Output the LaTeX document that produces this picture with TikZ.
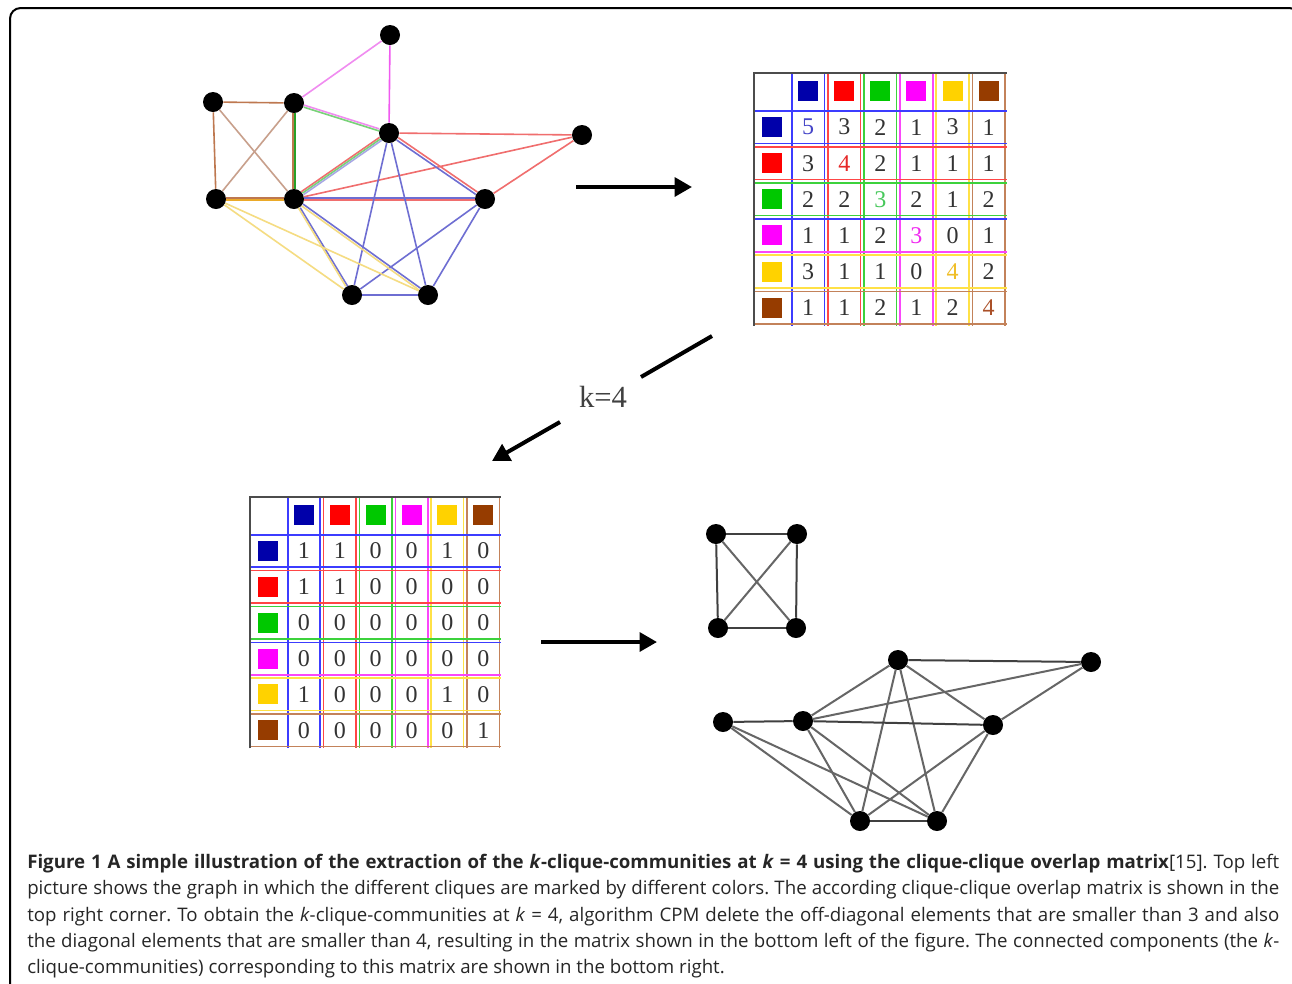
\documentclass[tikz,border=0pt]{standalone}
\usepackage{fontspec}
\setmainfont{Open Sans}
\newfontfamily\tnr{Liberation Serif}
\usetikzlibrary{arrows.meta}
\frenchspacing
\definecolor{cb}{RGB}{0,0,170}
\definecolor{cr}{RGB}{255,0,0}
\definecolor{cg}{RGB}{0,200,0}
\definecolor{cm}{RGB}{255,0,255}
\definecolor{cy}{RGB}{255,210,0}
\definecolor{cn}{RGB}{150,60,0}
\definecolor{lcb}{RGB}{60,60,255}
\definecolor{lcr}{RGB}{255,70,70}
\definecolor{lcg}{RGB}{60,210,60}
\definecolor{lcm}{RGB}{250,70,250}
\definecolor{lcy}{RGB}{255,225,70}
\definecolor{lcn}{RGB}{195,130,90}
\definecolor{dcb}{RGB}{70,70,200}
\definecolor{dcr}{RGB}{230,40,40}
\definecolor{dcg}{RGB}{70,200,90}
\definecolor{dcm}{RGB}{240,40,240}
\definecolor{dcy}{RGB}{240,190,40}
\definecolor{dcn}{RGB}{170,80,40}
\definecolor{gpink}{RGB}{240,140,240}
\definecolor{gmag}{RGB}{240,90,240}
\definecolor{gred}{RGB}{240,110,110}
\definecolor{gblue}{RGB}{110,110,210}
\definecolor{gyel}{RGB}{245,220,130}
\definecolor{gorg}{RGB}{235,170,40}
\definecolor{gtan}{RGB}{200,160,140}
\definecolor{gbrn}{RGB}{190,120,80}
\definecolor{ggrn}{RGB}{40,160,40}
\definecolor{ggrnl}{RGB}{120,210,120}
\def\ms{36}
\newcommand\mgrid[1]{%
  \fill[white] (0,0) rectangle ({7*\ms},{7*\ms});
  \foreach \c [count=\j] in {cb,cr,cg,cm,cy,cn} {
    \draw[mline,draw=l\c] ({\j*\ms+1.8},0) -- ({\j*\ms+1.8},{7*\ms});
    \draw[mline,draw=l\c] ({(\j+1)*\ms-1.8},0) -- ({(\j+1)*\ms-1.8},{7*\ms});
  }
  \foreach \c/\d [count=\i] in {cb/cb,cr/cr,cg/cg,cb/cm,cy/cy,cn/cn} {
    \draw[mline,draw=l\c] (0,{\i*\ms+1.8}) -- ({7*\ms},{\i*\ms+1.8});
    \draw[mline,draw=l\d] (0,{(\i+1)*\ms-1.8}) -- ({7*\ms},{(\i+1)*\ms-1.8});
  }
  \foreach \c [count=\j] in {cb,cr,cg,cm,cy,cn} {
    \node[sq,fill=\c] (#1h\j) at ({(\j+0.5)*\ms},{0.5*\ms}) {};
    \node[sq,fill=\c] (#1r\j) at ({0.5*\ms},{(\j+0.5)*\ms}) {};
  }
  \draw[line width=1.3pt,black!70] (0,{7*\ms}) -- (0,0) -- ({7*\ms},0);
}
\newcommand\mrow[8]{%
  \node[num] (#1n#2x1) at ({1.5*\ms},{(#2+0.5)*\ms}) {#3};
  \node[num] (#1n#2x2) at ({2.5*\ms},{(#2+0.5)*\ms}) {#4};
  \node[num] (#1n#2x3) at ({3.5*\ms},{(#2+0.5)*\ms}) {#5};
  \node[num] (#1n#2x4) at ({4.5*\ms},{(#2+0.5)*\ms}) {#6};
  \node[num] (#1n#2x5) at ({5.5*\ms},{(#2+0.5)*\ms}) {#7};
  \node[num] (#1n#2x6) at ({6.5*\ms},{(#2+0.5)*\ms}) {#8};
}
\begin{document}
\begin{tikzpicture}[x=0.75pt,y=-0.75pt,
  dot/.style={circle,fill=black,inner sep=0pt,minimum size=15pt},
  sq/.style={rectangle,inner sep=0pt,minimum size=15pt},
  num/.style={inner sep=0pt,font=\tnr\fontsize{18}{18}\selectfont,text=black!80},
  ge/.style={line width=1.2pt},
  be/.style={line width=1.5pt,black!60},
  bigarrow/.style={line width=3pt,-{Triangle[length=13pt,width=14pt]}},
  mline/.style={line width=1.3pt},
  capline/.style={anchor=base west,inner sep=0pt,font=\fontsize{14}{17}\selectfont,text=black!85}]
\useasboundingbox (0,0) rectangle (1292,983);
\fill[white] (0,0) rectangle (1292,983);
\begin{scope}
  \clip (0,0) rectangle (1292,983);
  \draw[line width=1.5pt,rounded corners=8pt] (10,1100) -- (10,8) -- (1300,8) -- (1300,1100);
\end{scope}

% ---- top-left graph
\node[dot] (tA) at (390,35) {};
\node[dot] (tB) at (213,102) {};
\node[dot] (tC) at (294,103) {};
\node[dot] (tD) at (389,133) {};
\node[dot] (tE) at (582,135) {};
\node[dot] (tF) at (216,199) {};
\node[dot] (tG) at (294,199) {};
\node[dot] (tH) at (485,199) {};
\node[dot] (tI) at (352,295) {};
\node[dot] (tJ) at (428,295) {};
\draw[ge,gpink] (tA) -- (tC);
\draw[ge,gmag] (tA) -- (tD);
\draw[ge,gbrn] (tB) -- (tC);
\draw[ge,gbrn] (tB) -- (tF);
\draw[ge,gtan] (tB) -- (tG);
\draw[ge,gtan] (tC) -- (tF);
\draw[ge,gbrn,transform canvas={xshift=-0.7pt}] (tC) -- (tG);
\draw[ge,ggrn,transform canvas={xshift=0.7pt}] (tC) -- (tG);
\draw[ge,gpink,transform canvas={yshift=0.8pt}] (tC) -- (tD);
\draw[ge,ggrnl,transform canvas={yshift=-0.8pt}] (tC) -- (tD);
\draw[ge,gbrn,transform canvas={yshift=0.7pt}] (tF) -- (tG);
\draw[ge,gorg,transform canvas={yshift=-0.7pt}] (tF) -- (tG);
\draw[ge,gred] (tD) -- (tE);
\draw[ge,gred] (tG) -- (tE);
\draw[ge,gred] (tH) -- (tE);
\draw[ge,gred,transform canvas={xshift=-0.8pt,yshift=1.1pt}] (tG) -- (tD);
\draw[ge,ggrnl] (tG) -- (tD);
\draw[ge,gblue!60,transform canvas={xshift=0.8pt,yshift=-1.1pt}] (tG) -- (tD);
\draw[ge,gred,transform canvas={xshift=0.6pt,yshift=0.9pt}] (tD) -- (tH);
\draw[ge,gblue,transform canvas={xshift=-0.6pt,yshift=-0.9pt}] (tD) -- (tH);
\draw[ge,gblue,transform canvas={yshift=0.9pt}] (tG) -- (tH);
\draw[ge,gred,transform canvas={yshift=-0.9pt}] (tG) -- (tH);
\draw[ge,gblue] (tD) -- (tI);
\draw[ge,gblue] (tD) -- (tJ);
\draw[ge,gblue] (tH) -- (tI);
\draw[ge,gblue] (tH) -- (tJ);
\draw[ge,gblue,transform canvas={xshift=0.7pt}] (tG) -- (tI);
\draw[ge,gyel,transform canvas={xshift=-0.7pt}] (tG) -- (tI);
\draw[ge,gblue,transform canvas={xshift=0.5pt,yshift=0.7pt}] (tG) -- (tJ);
\draw[ge,gyel,transform canvas={xshift=-0.5pt,yshift=-0.7pt}] (tG) -- (tJ);
\draw[ge,gblue] (tI) -- (tJ);
\draw[ge,gyel] (tF) -- (tI);
\draw[ge,gyel] (tF) -- (tJ);

% ---- arrows
\coordinate (a1s) at (576,187);
\coordinate (a1e) at (692,187);
\draw[bigarrow] (a1s) -- (a1e);
\node[font=\tnr\fontsize{23}{23}\selectfont,text=black!75,inner sep=1pt] (klab) at (603,397) {k=4};
\coordinate (k1s) at (712,336);
\coordinate (k1e) at (641,377);
\draw[line width=3pt] (k1s) -- (k1e);
\coordinate (k2s) at (560,422);
\coordinate (k2e) at (492,461);
\draw[bigarrow] (k2s) -- (k2e);
\coordinate (a3s) at (541,642);
\coordinate (a3e) at (657,642);
\draw[bigarrow] (a3s) -- (a3e);

% ---- top-right matrix
\begin{scope}[shift={(754,73)}]
\def\ms{36.1}
\mgrid{t}
\mrow{t}{1}{\textcolor{dcb}{5}}{3}{2}{1}{3}{1}
\mrow{t}{2}{3}{\textcolor{dcr}{4}}{2}{1}{1}{1}
\mrow{t}{3}{2}{2}{\textcolor{dcg}{3}}{2}{1}{2}
\mrow{t}{4}{1}{1}{2}{\textcolor{dcm}{3}}{0}{1}
\mrow{t}{5}{3}{1}{1}{0}{\textcolor{dcy}{4}}{2}
\mrow{t}{6}{1}{1}{2}{1}{2}{\textcolor{dcn}{4}}
\end{scope}

% ---- bottom-left matrix
\begin{scope}[shift={(250,497)}]
\def\ms{35.9}
\mgrid{b}
\mrow{b}{1}{1}{1}{0}{0}{1}{0}
\mrow{b}{2}{1}{1}{0}{0}{0}{0}
\mrow{b}{3}{0}{0}{0}{0}{0}{0}
\mrow{b}{4}{0}{0}{0}{0}{0}{0}
\mrow{b}{5}{1}{0}{0}{0}{1}{0}
\mrow{b}{6}{0}{0}{0}{0}{0}{1}
\end{scope}

% ---- bottom-right graphs
\node[dot] (bA) at (716,534) {};
\node[dot] (bB) at (797,534) {};
\node[dot] (bC) at (718,628) {};
\node[dot] (bD) at (796,628) {};
\draw[be,black!75] (bA) -- (bB);
\draw[be,black!75] (bA) -- (bC);
\draw[be,black!75] (bB) -- (bD);
\draw[be,black!75] (bC) -- (bD);
\draw[be] (bA) -- (bD);
\draw[be] (bB) -- (bC);

\node[dot] (bP) at (898,660) {};
\node[dot] (bQ) at (1091,662) {};
\node[dot] (bF) at (723,722) {};
\node[dot] (bG) at (803,721) {};
\node[dot] (bH) at (993,725) {};
\node[dot] (bI) at (860,821) {};
\node[dot] (bJ) at (937,821) {};
\draw[be,black!75] (bP) -- (bQ);
\draw[be] (bP) -- (bG);
\draw[be] (bP) -- (bH);
\draw[be] (bP) -- (bI);
\draw[be] (bP) -- (bJ);
\draw[be] (bG) -- (bQ);
\draw[be] (bH) -- (bQ);
\draw[be,black!75] (bF) -- (bG);
\draw[be,black!75] (bG) -- (bH);
\draw[be] (bF) -- (bI);
\draw[be] (bF) -- (bJ);
\draw[be] (bG) -- (bI);
\draw[be] (bG) -- (bJ);
\draw[be] (bH) -- (bI);
\draw[be] (bH) -- (bJ);
\draw[be,black!75] (bI) -- (bJ);

% ---- caption
\node[capline] (cap1) at (27,868) {\makebox[939pt][s]{\textbf{Figure 1 A simple illustration of the extraction of the \textit{k}-clique-communities at \textit{k} = 4 using the clique-clique overlap matrix}[15]. Top left}};
\node[capline] (cap2) at (27,894) {\makebox[939pt][s]{picture shows the graph in which the different cliques are marked by different colors. The according clique-clique overlap matrix is shown in the}};
\node[capline] (cap3) at (27,921) {\makebox[939pt][s]{top right corner. To obtain the \textit{k}-clique-communities at \textit{k} = 4, algorithm CPM delete the off-diagonal elements that are smaller than 3 and also}};
\node[capline] (cap4) at (27,947) {\makebox[939pt][s]{the diagonal elements that are smaller than 4, resulting in the matrix shown in the bottom left of the figure. The connected components (the \textit{k}-}};
\node[capline] (cap5) at (27,973) {clique-communities) corresponding to this matrix are shown in the bottom right.};
\end{tikzpicture}
\end{document}
